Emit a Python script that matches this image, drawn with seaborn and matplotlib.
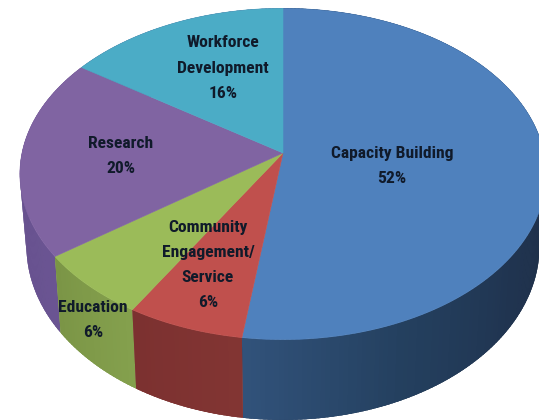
import numpy as np
import matplotlib
matplotlib.use('Agg')
import matplotlib.pyplot as plt
import seaborn as sns

# slices, clockwise from 12 o'clock
categories = ['Capacity Building', 'Community\nEngagement/\nService', 'Education', 'Research', 'Workforce\nDevelopment']
shares = [52.2, 6.4, 6.4, 19.5, 15.5]
top_colors = ['#4f81bd', '#c0504d', '#9bbb59', '#8064a2', '#4bacc6']
# side wall colours going clockwise through each slice
side_ramps = [['#1f3048', '#1f3048', '#1f3048', '#1f3048', '#203450', '#24405f', '#31527a'],
              ['#823533', '#7c3130'],
              ['#84a04d', '#7b9546'],
              ['#6a5492', '#65508c'],
              ['#65508c', '#65508c']]
label_x = [392, 208, 93, 121, 223]
label_y = [166, 265, 320, 156, 68]

sns.set_theme(style='white')
plt.rcParams['font.family'] = ['Roboto Condensed', 'Lato', 'DejaVu Sans']

# pie geometry in pixels, with a bit of perspective
cx, cy = 283, 153
rx, ry = 261, 163
persp = 0.1265
wall_scale_x, wall_scale_y, wall_drop = 0.975, 1.05, 71


def top_face(theta):
    px, py = np.sin(theta), np.cos(theta)
    s = 1 / (1 + persp * py)
    return cx + rx * px * s, cy - ry * py * s


def bottom_edge(theta):
    x, y = top_face(theta)
    return cx + (x - cx) * wall_scale_x, cy + (y - cy) * wall_scale_y + wall_drop


fig, ax = plt.subplots(figsize=(5.39, 4.20), dpi=100)
fig.subplots_adjust(0, 0, 1, 1)
ax.set_xlim(0, 539)
ax.set_ylim(420, 0)
ax.axis('off')

edges = np.radians(np.cumsum([0] + shares) * 3.6)

# side wall: a solid piece per slice, then the shading on top of it
for i in [4, 0, 3, 2, 1]:
    t = np.linspace(edges[i], edges[i + 1], 120)
    x1, y1 = top_face(t)
    x2, y2 = bottom_edge(t)
    base = sns.blend_palette(side_ramps[i], 3)[1]
    ax.fill(np.r_[x1, x2[::-1]], np.r_[y1, y2[::-1]], color=base, linewidth=0)
    n = max(int(shares[i] * 4), 12)
    ramp = sns.blend_palette(side_ramps[i], n)
    steps = np.linspace(edges[i], edges[i + 1], n + 1)
    step = steps[1] - steps[0]
    for j in range(n):
        # overlap the next piece so no seams show
        end = steps[j + 1] if j == n - 1 else steps[j + 1] + step * 0.6
        t = np.linspace(steps[j], end, 3)
        x1, y1 = top_face(t)
        x2, y2 = bottom_edge(t)
        ax.fill(np.r_[x1, x2[::-1]], np.r_[y1, y2[::-1]], color=ramp[j], linewidth=0)

# top face
for i in range(len(shares)):
    t = np.linspace(edges[i], edges[i + 1], 120)
    x, y = top_face(t)
    ax.fill(np.r_[cx, x], np.r_[cy, y], color=top_colors[i], linewidth=0.4)

for i in range(len(shares)):
    txt = '%s\n%.0f%%' % (categories[i], shares[i])
    ax.text(label_x[i], label_y[i], txt, ha='center', va='center', color='#101a2a',
            fontsize=12.6, fontweight='bold', linespacing=1.84)

plt.savefig('out.png', dpi=100)
